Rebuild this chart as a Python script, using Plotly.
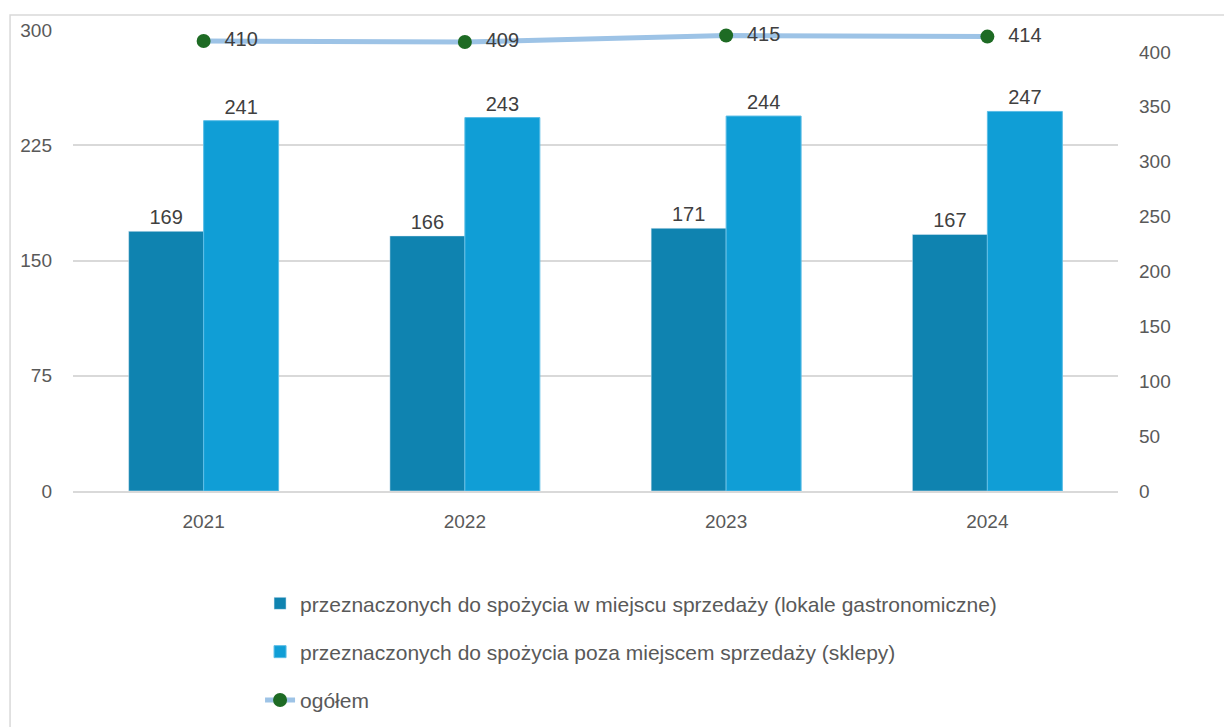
import plotly.graph_objects as go

# Data
years = ["2021", "2022", "2023", "2024"]
lokale = [169, 166, 171, 167]
sklepy = [241, 243, 244, 247]
ogolem = [410, 409, 415, 414]

name_lokale = "przeznaczonych do spożycia w miejscu sprzedaży (lokale gastronomiczne)"
name_sklepy = "przeznaczonych do spożycia poza miejscem sprzedaży (sklepy)"
name_ogolem = "ogółem"

FONT = "Liberation Sans"
W, H = 1232, 727
L, R, T, B = 64, 122, 20, 244

fig = go.Figure()

fig.add_trace(go.Bar(
    x=years, y=lokale, name=name_lokale,
    marker=dict(color="#0F83B0"),
    text=lokale, textposition="outside",
    textfont=dict(size=20, color="#404040"),
    cliponaxis=False, legendgroup="a",
))
fig.add_trace(go.Bar(
    x=years, y=sklepy, name=name_sklepy,
    marker=dict(color="#109ED6", line=dict(color="#5BBDE6", width=1)),
    text=sklepy, textposition="outside",
    textfont=dict(size=20, color="#404040"),
    cliponaxis=False, legendgroup="b",
))
fig.add_trace(go.Scatter(
    x=years, y=ogolem, name=name_ogolem, yaxis="y2",
    mode="lines+markers+text",
    line=dict(color="#9DC3E6", width=5),
    marker=dict(color="#1E6B24", size=14),
    text=ogolem, texttemplate="  %{text}", textposition="middle right",
    textfont=dict(size=20, color="#404040"),
    cliponaxis=False, legendgroup="c",
))

# outer chart border (extends past the visible frame)
pw = W - L - R
ph = H - T - B
fig.add_shape(
    type="rect", xref="paper", yref="paper", layer="below",
    x0=(1 - L) / pw, x1=(W + 20 - L) / pw,
    y0=(H - B - (H + 20)) / ph, y1=(H - B - 5) / ph,
    line=dict(color="#D9D9D9", width=1.5), fillcolor="rgba(0,0,0,0)",
)

fig.update_layout(
    width=W, height=H,
    margin=dict(l=L, r=R, t=T, b=B),
    paper_bgcolor="white", plot_bgcolor="white",
    font=dict(family=FONT, size=19, color="#595959"),
    barmode="group", bargap=0.426, bargroupgap=0,
    showlegend=True,
    legend=dict(
        orientation="v", x=0.179, y=-0.2, xanchor="left", yanchor="top",
        traceorder="grouped", tracegroupgap=18,
        font=dict(size=21, color="#595959"),
    ),
    xaxis=dict(
        showline=True, linecolor="#D9D9D9", linewidth=1.5,
        ticks="", ticklabelstandoff=12,
        tickfont=dict(size=19, color="#595959"),
    ),
    yaxis=dict(
        range=[0, 300], tickvals=[0, 75, 150, 225, 300],
        showgrid=True, gridcolor="#D9D9D9", gridwidth=1.5,
        zeroline=False, ticks="", ticklabelstandoff=20,
        tickfont=dict(size=19, color="#595959"),
    ),
    yaxis2=dict(
        overlaying="y", side="right", range=[0, 420], dtick=50,
        showgrid=False, zeroline=False, ticks="", ticklabelstandoff=20,
        tickfont=dict(size=19, color="#595959"),
    ),
)

fig.write_html("out.html")
